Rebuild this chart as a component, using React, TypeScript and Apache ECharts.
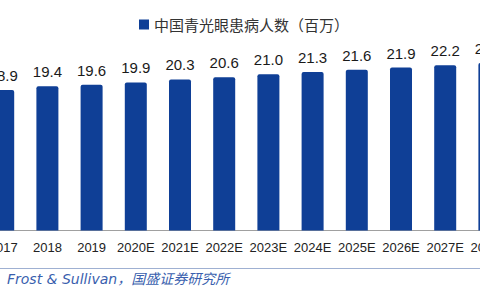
import React, { useEffect, useRef } from "react";
import * as echarts from "echarts";

const categories = ["2017", "2018", "2019", "2020E", "2021E", "2022E", "2023E", "2024E", "2025E", "2026E", "2027E", "2028E"];
const patients = [18.9, 19.4, 19.6, 19.9, 20.3, 20.6, 21.0, 21.3, 21.6, 21.9, 22.2, 22.5];
const seriesName = "中国青光眼患病人数（百万）";
const sourceText = "Frost & Sullivan，国盛证券研究所";

const SHIFT = 40;

export default function App() {
  const ref = useRef<HTMLDivElement>(null);
  useEffect(() => {
    if (!ref.current) return;
    const chart = echarts.init(ref.current, undefined, { renderer: "svg" });
    chart.setOption({
      animation: false,
      backgroundColor: "#ffffff",
      legend: {
        data: [seriesName],
        left: 134 + SHIFT,
        top: 12,
        icon: "rect",
        itemWidth: 10,
        itemHeight: 10,
        textStyle: { fontSize: 15, color: "#333", fontFamily: '"Noto Sans CJK SC", sans-serif' },
      },
      grid: { left: 21.1, right: 8.5, top: 44.5, bottom: 69.5 },
      xAxis: {
        type: "category",
        data: categories,
        axisLine: { lineStyle: { color: "#a0a0a0", width: 1 } },
        axisTick: { inside: true, length: 4, lineStyle: { color: "#a0a0a0" } },
        axisLabel: { margin: 10, fontSize: 13, color: "#222", fontFamily: '"Liberation Sans", Arial, sans-serif', interval: 0 },
      },
      yAxis: {
        type: "value",
        min: 0,
        max: 25,
        show: false,
        splitLine: { show: false },
      },
      series: [
        {
          name: seriesName,
          type: "bar",
          data: patients,
          barWidth: 22,
          itemStyle: { color: "#0f3f96", borderRadius: [2, 2, 0, 0] },
          label: {
            show: true,
            position: "top",
            distance: 7,
            fontSize: 15,
            color: "#1a1a1a",
            fontFamily: '"Liberation Sans", Arial, sans-serif',
            formatter: (p: any) => Number(p.value).toFixed(1),
          },
        },
      ],
      graphic: [
        {
          type: "line",
          shape: { x1: 0, y1: 268.5, x2: 560, y2: 268.5 },
          style: { stroke: "#9fb0d2", lineWidth: 1 },
        },
        {
          type: "text",
          x: 7 + SHIFT,
          y: 279,
          style: {
            text: sourceText,
            fill: "#3a5fae",
            fontSize: 14,
            fontStyle: "italic",
            fontFamily: '"DejaVu Sans", "Noto Sans CJK SC", sans-serif',
            verticalAlign: "middle",
          },
        },
      ],
    });
    return () => chart.dispose();
  }, []);
  return (
    <div style={{ position: "fixed", left: 0, top: 0, width: 480, height: 300, overflow: "hidden", background: "#fff" }}>
      <div ref={ref} style={{ position: "absolute", left: -SHIFT, top: 0, width: 560, height: 300 }} />
    </div>
  );
}
